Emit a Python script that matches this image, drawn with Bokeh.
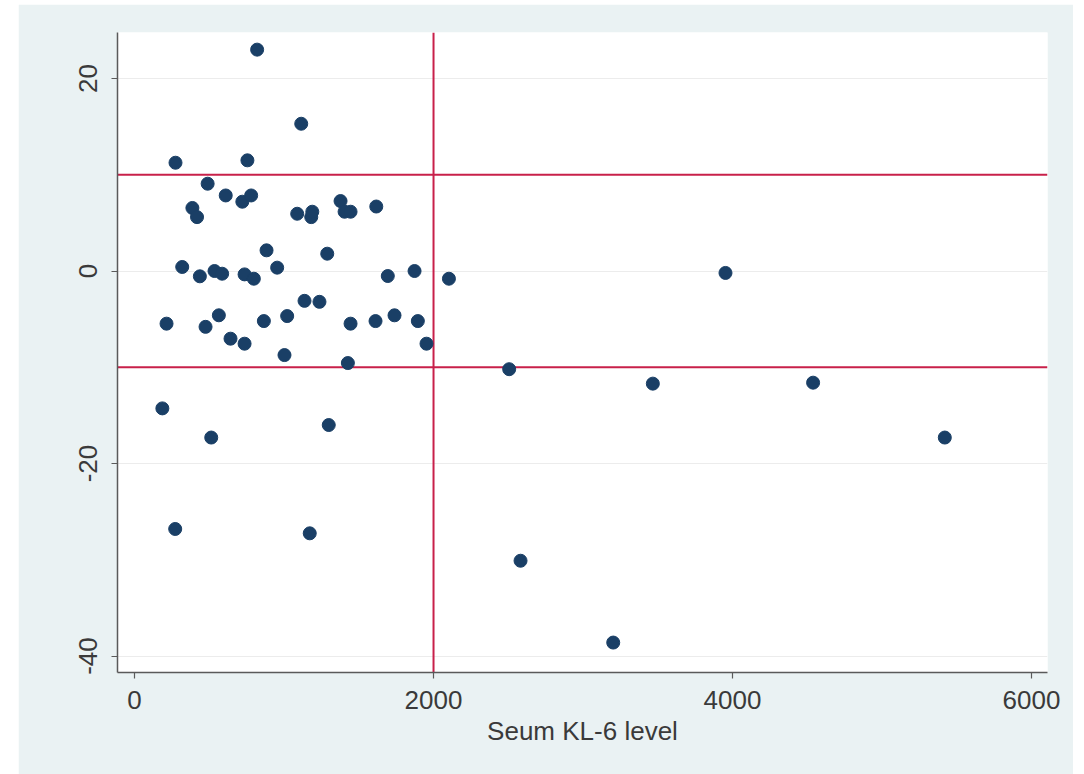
from bokeh.plotting import figure
from bokeh.models import Span, Range1d, FixedTicker, ColumnDataSource, PrintfTickFormatter
from bokeh.layouts import row, column, Spacer
from bokeh.embed import file_html
from bokeh.resources import INLINE

# ---- data ----
kl6_level = [820, 1115, 274, 755,
             489, 610, 721, 780, 387, 418, 1088, 1182, 1189, 1378, 1405, 1445, 1617,
             883, 1289, 954, 319,
             437, 535, 586, 736, 798, 1694, 1873, 2103, 3953,
             1137, 1237, 214, 475, 564, 865, 1021, 1445, 1612, 1739, 1895,
             642, 736, 1003, 1953, 1427,
             2506, 3467, 4539, 186, 513, 1299, 5420, 272, 1172, 2582, 3202]
change = [23.0, 15.3, 11.25, 11.5,
          9.07, 7.85, 7.2, 7.85, 6.55, 5.6, 5.95, 5.6, 6.16, 7.27, 6.16, 6.16, 6.7,
          2.15, 1.8, 0.35, 0.42,
          -0.55, 0.0, -0.28, -0.35, -0.8, -0.52, 0.0, -0.8, -0.2,
          -3.1, -3.2, -5.47, -5.8, -4.6, -5.2, -4.68, -5.47, -5.2, -4.6, -5.2,
          -7.03, -7.55, -8.73, -7.55, -9.56,
          -10.2, -11.7, -11.6, -14.27, -17.3, -16.0, -17.3, -26.8, -27.25, -30.1, -38.6]
x_ticks = [0, 2000, 4000, 6000]
y_ticks = [-40, -20, 0, 20]
x_cutoff = 2000
y_cutoffs = [10, -10]
x_title = "Seum KL-6 level"

BG = "#EAF2F3"
NAVY = "#1a3f66"
RED = "#c8204a"
TXT = "#3a3a3a"
FONT = "Liberation Sans"

src = ColumnDataSource(dict(x=kl6_level, y=change))

W, H = 1055, 770
p = figure(width=W, height=H, output_backend="svg", toolbar_location=None,
           x_range=Range1d(-114, 6107), y_range=Range1d(-41.71, 24.78),
           min_border_left=99, min_border_right=26, min_border_top=28, min_border_bottom=102)
p.border_fill_color = BG
p.background_fill_color = "white"
p.outline_line_color = None

p.xgrid.grid_line_color = None
p.ygrid.grid_line_color = "#ececec"
p.ygrid.grid_line_width = 1.2

p.xaxis.ticker = FixedTicker(ticks=x_ticks)
p.yaxis.ticker = FixedTicker(ticks=y_ticks)
p.ygrid.ticker = FixedTicker(ticks=y_ticks)
p.xaxis.formatter = PrintfTickFormatter(format="%d")
p.yaxis.formatter = PrintfTickFormatter(format="%d")
p.yaxis.major_label_orientation = "vertical"
p.xaxis.axis_label = x_title

for ax in (p.xaxis[0], p.yaxis[0]):
    ax.axis_line_color = "#5a5a5a"
    ax.axis_line_width = 1.5
    ax.major_tick_line_color = "#5a5a5a"
    ax.major_tick_line_width = 1.2
    ax.major_tick_in = 0
    ax.major_tick_out = 6
    ax.minor_tick_line_color = None
    ax.major_label_text_font = FONT
    ax.major_label_text_font_size = "26px"
    ax.major_label_text_color = TXT
    ax.axis_label_text_font = FONT
    ax.axis_label_text_font_size = "26px"
    ax.axis_label_text_font_style = "normal"
    ax.axis_label_text_color = TXT

p.xaxis.major_label_standoff = 12
p.yaxis.major_label_standoff = 14
p.xaxis.axis_label_standoff = 4

for yc in y_cutoffs:
    p.add_layout(Span(location=yc, dimension="width", line_color=RED,
                      line_width=2, level="underlay"))
p.add_layout(Span(location=x_cutoff, dimension="height", line_color=RED,
                  line_width=2, level="underlay"))

p.scatter("x", "y", source=src, size=13, fill_color=NAVY, line_color=NAVY)

layout = column(Spacer(width=10, height=4), row(Spacer(width=18, height=H), p))
open("out.html", "w").write(file_html(layout, INLINE))
